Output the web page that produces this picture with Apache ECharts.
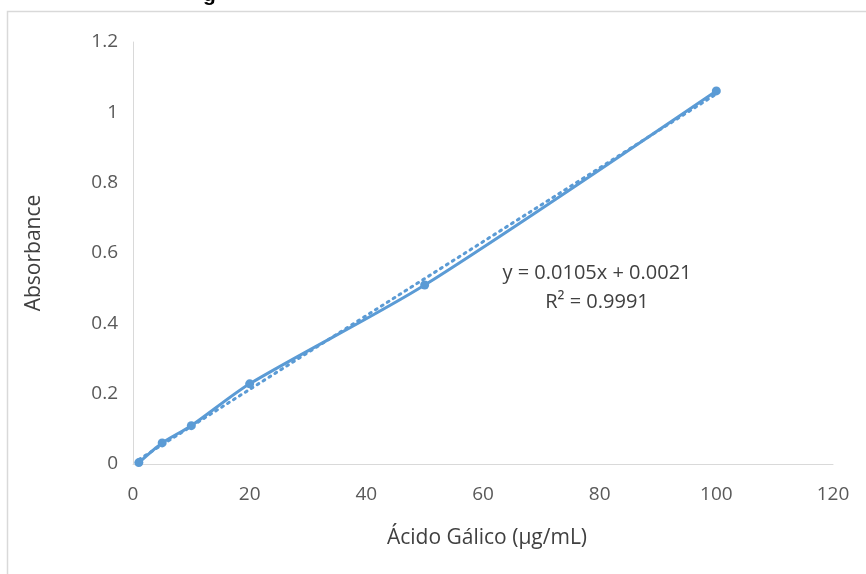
<!DOCTYPE html>
<html><head><meta charset="utf-8">
<script src="https://cdn.jsdelivr.net/npm/echarts@6/dist/echarts.min.js"></script>
<style>html,body{margin:0;padding:0;background:#fff}#c{width:866px;height:574px}</style>
</head><body><div id="c"></div>
<script>
const xValues = [1, 5, 10, 20, 50, 100];
const absorbance = [0.004, 0.06, 0.109, 0.228, 0.509, 1.061];
const trendSlope = 0.0105;
const trendIntercept = 0.0021;
const trendRange = [1, 100];
const xTicks = [0, 20, 40, 60, 80, 100, 120];
const yTicks = [0, 0.2, 0.4, 0.6, 0.8, 1, 1.2];
const equationLines = ['y = 0.0105x + 0.0021', 'R² = 0.9991'];

const pts = xValues.map((x, i) => [x, absorbance[i]]);
const trend = trendRange.map(x => [x, trendSlope * x + trendIntercept]);
const C = '#5b9bd5';
const F = '"Open Sans", "Liberation Sans", sans-serif';

const chart = echarts.init(document.getElementById('c'));
chart.setOption({
  animation: false,
  backgroundColor: '#fff',
  grid: {left: 133, top: 42, width: 700, height: 422, containLabel: false},
  xAxis: {
    type: 'value', min: 0, max: 120, interval: 20,
    name: 'Ácido Gálico (µg/mL)', nameLocation: 'middle', nameGap: 64,
    nameTextStyle: {fontFamily: F, fontSize: 21, color: '#404040', padding: [0, 0, 0, 8]},
    axisLine: {show: true, lineStyle: {color: '#d9d9d9', width: 1}},
    axisTick: {show: false}, splitLine: {show: false},
    axisLabel: {fontFamily: F, fontSize: 19, color: '#595959', margin: 21,
      formatter: v => xTicks.includes(v) ? String(v) : ''}
  },
  yAxis: {
    type: 'value', min: 0, max: 1.2, interval: 0.2,
    name: 'Absorbance', nameLocation: 'middle', nameGap: 88, nameRotate: 90,
    nameTextStyle: {fontFamily: F, fontSize: 21, color: '#404040'},
    axisLine: {show: true, onZero: false, lineStyle: {color: '#d9d9d9', width: 1}},
    axisTick: {show: false}, splitLine: {show: false},
    axisLabel: {fontFamily: F, fontSize: 19, color: '#595959', margin: 15,
      formatter: v => { const t = yTicks.find(k => Math.abs(k - v) < 1e-9); return t === undefined ? '' : String(t); }}
  },
  series: [
    {type: 'line', data: trend, symbol: 'none', z: 2,
     lineStyle: {color: C, width: 3, type: [2, 5], cap: 'round'}},
    {type: 'line', data: pts, smooth: 0.25, symbol: 'circle', symbolSize: 9, z: 3,
     itemStyle: {color: C}, lineStyle: {color: C, width: 3}}
  ],
  graphic: [
    {type: 'rect', shape: {x: 7.5, y: 11.5, width: 900, height: 600}, silent: true,
     style: {fill: 'none', stroke: '#d9d9d9', lineWidth: 1.5}},
    {type: 'text', x: 203, y: -15, silent: true,
     style: {text: 'g', font: 'bold 21px "Liberation Sans", sans-serif', fill: '#000', textVerticalAlign: 'top'}},
    {type: 'text', x: 597, y: 273, silent: true,
     style: {text: equationLines[0], font: '20px ' + F, fill: '#404040', textAlign: 'center', textVerticalAlign: 'middle'}},
    {type: 'text', x: 597, y: 302, silent: true,
     style: {text: equationLines[1], font: '20px ' + F, fill: '#404040', textAlign: 'center', textVerticalAlign: 'middle'}}
  ]
});
</script></body></html>
